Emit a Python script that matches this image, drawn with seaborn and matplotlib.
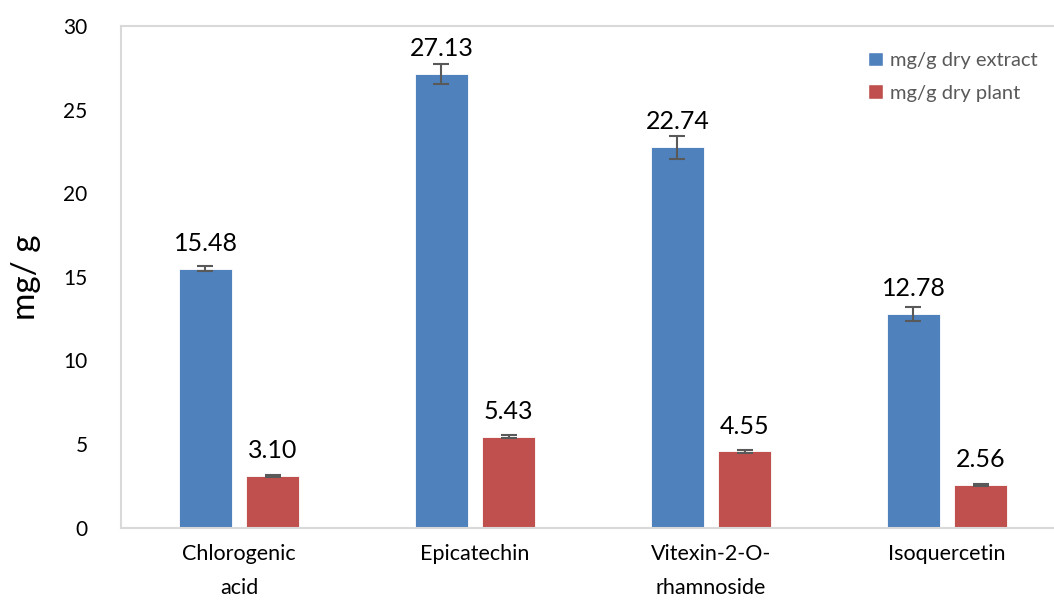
import matplotlib
matplotlib.use("Agg")
import matplotlib.pyplot as plt
import seaborn as sns
import pandas as pd

# === DATA ===
compounds = ["Chlorogenic\nacid", "Epicatechin", "Vitexin-2-O-\nrhamnoside", "Isoquercetin"]
series_names = ["mg/g dry extract", "mg/g dry plant"]
dry_extract = [15.48, 27.13, 22.74, 12.78]
dry_extract_err = [0.15, 0.6, 0.7, 0.4]
dry_plant = [3.10, 5.43, 4.55, 2.56]
dry_plant_err = [0.05, 0.1, 0.1, 0.05]
y_ticks = [0, 5, 10, 15, 20, 25, 30]

COLORS = ["#4F81BD", "#C0504D"]

df = pd.DataFrame({
    "compound": compounds * 2,
    "series": [series_names[0]] * 4 + [series_names[1]] * 4,
    "value": dry_extract + dry_plant,
})
errors = [dry_extract_err, dry_plant_err]

sns.set_style("white")
plt.rcParams["font.family"] = ["Lato", "DejaVu Sans"]

fig = plt.figure(figsize=(10.54, 6.04), dpi=100)
ax = fig.add_axes([121 / 1054, 1 - 527.5 / 604, (1065 - 121) / 1054, (527.5 - 26) / 604])

sns.barplot(data=df, x="compound", y="value", hue="series", order=compounds,
            hue_order=series_names, palette=COLORS, width=0.568, gap=0.21,
            errorbar=None, saturation=1, ax=ax, legend=True)

# error bars + value labels
for container, errs in zip(ax.containers, errors):
    for bar, err in zip(container, errs):
        cx = bar.get_x() + bar.get_width() / 2
        h = bar.get_height()
        bar.set_edgecolor("white")
        bar.set_linewidth(0.6)
        ax.errorbar(cx, h, yerr=err, color="#595959", capsize=6, capthick=1.5,
                    elinewidth=1.5, zorder=3)
        ax.annotate(f"{h:.2f}", (cx, h), xytext=(0, 10), textcoords="offset points",
                    ha="center", va="bottom", fontsize=18, color="black")

ax.set_ylim(0, 30)
ax.set_yticks(y_ticks)
ax.set_xlim(-0.5, 3.5)
ax.tick_params(axis="y", labelsize=15, length=0, pad=24, labelcolor="black")
ax.tick_params(axis="x", labelsize=15.5, length=0, pad=12, labelcolor="black")
for lbl in ax.get_xticklabels():
    lbl.set_linespacing(1.85)
ax.set_xlabel("")
ax.set_ylabel("mg/ g", fontsize=24, labelpad=16, color="black")

for side in ["left", "top", "bottom"]:
    ax.spines[side].set_color("#d9d9d9")
    ax.spines[side].set_linewidth(1.5)
ax.spines["right"].set_visible(False)

leg = ax.legend(loc="upper right", bbox_to_anchor=(0.99, 0.985), frameon=False,
                fontsize=14.5, handlelength=0.75, handleheight=0.75, handletextpad=0.35,
                labelspacing=0.75, labelcolor="#595959")

plt.savefig("out.png", dpi=100)
